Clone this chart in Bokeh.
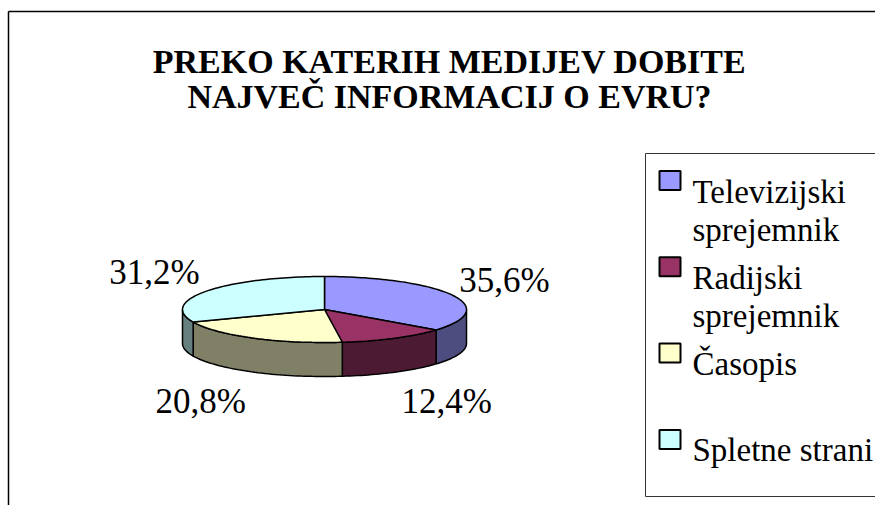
import math
from bokeh.plotting import figure
from bokeh.models import Range1d
from bokeh.core.properties import value
from bokeh.embed import file_html
from bokeh.resources import INLINE

# ---- data ----
title_lines = ["PREKO KATERIH MEDIJEV DOBITE", "NAJVEČ INFORMACIJ O EVRU?"]
categories = ["Televizijski\nsprejemnik", "Radijski\nsprejemnik", "Časopis", "Spletne strani"]
values = [35.6, 12.4, 20.8, 31.2]
top_colors = ["#9999FF", "#993366", "#FFFFCC", "#CCFFFF"]
side_colors = ["#4D4D80", "#4D1A33", "#808066", "#668080"]

# ---- figure in pixel coordinates (y grows downwards) ----
W, H = 875, 505
p = figure(width=W, height=H, x_range=Range1d(0, W), y_range=Range1d(H, 0),
           x_axis_type=None, y_axis_type=None, output_backend="svg",
           toolbar_location=None, min_border=0)
p.outline_line_color = None

# chart area border (left / top visible)
p.line(x=[8, 8], y=[11, H], line_color="black", line_width=1.5)
p.line(x=[8, W], y=[11, 11], line_color="black", line_width=1.5)

# ---- 3D pie ----
cx, cy, rx, ry, depth = 324, 309, 142, 33, 34
total = sum(values)

def pt(theta_deg, dy=0.0):
    t = math.radians(theta_deg)
    return cx + rx * math.sin(t), cy - ry * math.cos(t) + dy

angles = []
acc = 0.0
for v in values:
    a0 = acc / total * 360.0
    acc += v
    a1 = acc / total * 360.0
    angles.append((a0, a1))

def arc(a0, a1, dy=0.0):
    n = max(4, int(abs(a1 - a0) / 1.5))
    return [pt(a0 + (a1 - a0) * k / n, dy) for k in range(n + 1)]

# walls (front half 90..270 degrees), one glyph per slice
for (a0, a1), c in zip(angles, side_colors):
    s, e = max(a0, 90.0), min(a1, 270.0)
    if e > s:
        pts = arc(s, e) + arc(s, e, depth)[::-1]
        p.patch(x=[q[0] for q in pts], y=[q[1] for q in pts], fill_color=c,
                line_color="black", line_width=1.5)

# top faces, one glyph per slice
for (a0, a1), c in zip(angles, top_colors):
    pts = [(cx, cy)] + arc(a0, a1)
    p.patch(x=[q[0] for q in pts], y=[q[1] for q in pts], fill_color=c,
            line_color="black", line_width=1.5)

# ---- legend box and swatches ----
p.line(x=[W, 645, 645, W], y=[153, 153, 496, 496], line_color="#333333", line_width=1)
legend_y = [180 + i * 86.3 for i in range(len(categories))]
for yc, c in zip(legend_y, top_colors):
    p.quad(left=[659], right=[680], top=[yc - 9.5], bottom=[yc + 9.5], fill_color=c,
           line_color="black", line_width=2)

# ---- all texts drawn last ----
for i, t in enumerate(title_lines):
    p.text(x=[449], y=[61 + 35 * i], text=[t], text_font=value("Liberation Serif"),
           text_font_style="bold", text_font_size="34px", text_align="center",
           text_baseline="alphabetic")

for (a0, a1), v in zip(angles, values):
    m = (a0 + a1) / 2
    t = math.radians(m)
    ex, ey = pt(m, depth if math.cos(t) < 0 else 0.0)
    s = math.sin(t)
    label = f"{v:.1f}".replace(".", ",") + "%"
    p.text(x=[ex + (7 if s > 0 else -7)], y=[ey - 34 * math.cos(t)], text=[label],
           text_font=value("Liberation Serif"), text_font_size="35px",
           text_align="left" if s > 0 else "right", text_baseline="middle")

for yc, cat in zip(legend_y, categories):
    for j, line in enumerate(cat.split("\n")):
        p.text(x=[692], y=[yc + 11 + 38 * j], text=[line], text_font=value("Liberation Serif"),
               text_font_size="33px", text_baseline="alphabetic")

open("out.html", "w").write(file_html(p, INLINE))
